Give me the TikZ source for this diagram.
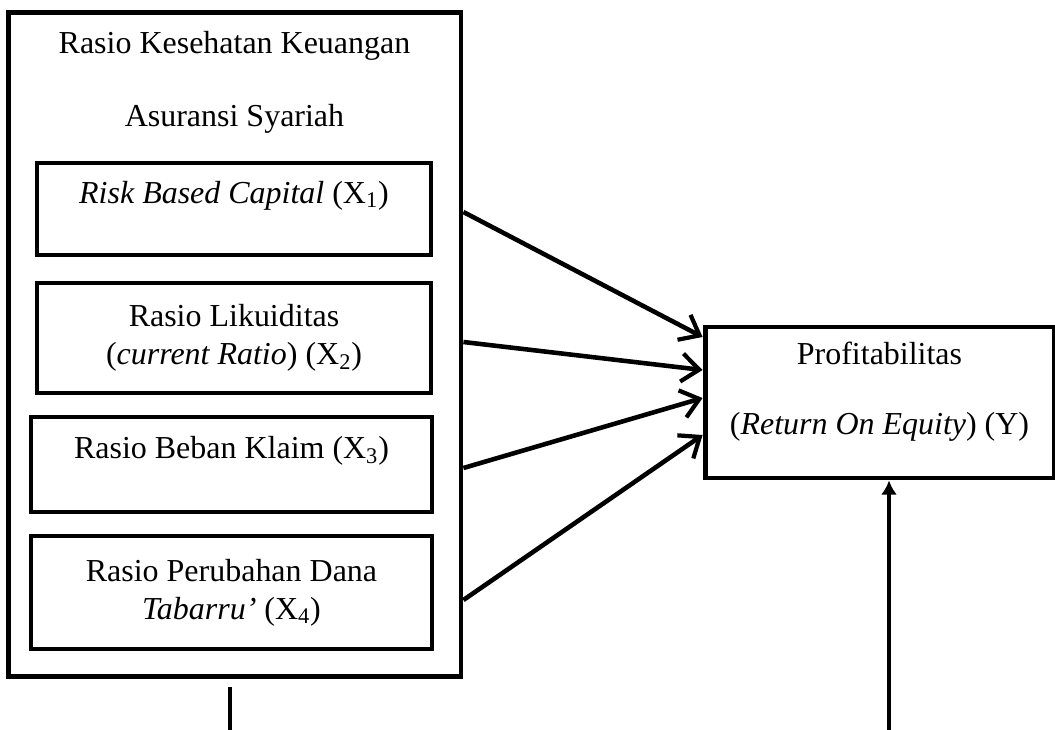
\documentclass[tikz,border=0pt]{standalone}
\usepackage{fontspec}
\setmainfont{Liberation Serif}
\usetikzlibrary{arrows.meta}

\tikzset{
  box/.style={draw, line width=2.8pt, align=center, inner sep=0pt},
  arr/.style={line width=2.6pt, -{Straight Barb[length=10pt,width=16pt,line width=2.4pt]}},
  uparr/.style={line width=2.6pt, -{Latex[length=8pt,width=9pt]}},
}

\begin{document}
\begin{tikzpicture}[x=0.02cm, y=-0.02cm, font=\fontsize{18.2}{21.6}\selectfont]
        \useasboundingbox (0,0) rectangle (1055,730);
        \node[box, minimum width=9.06cm, minimum height=13.3cm] (frame) at (234.5,344.5) {};
        \node[align=center] (title) at (234.5,82) {Rasio Kesehatan Keuangan\\[19.8pt]Asuransi Syariah};
        \node[box, minimum width=7.88cm, minimum height=1.84cm] (rbc) at (234,209) {\textit{Risk Based Capital} (X\textsubscript{1})\\[-9pt]\strut};
        \node[box, minimum width=7.88cm, minimum height=2.2cm] (lik) at (234,338) {Rasio Likuiditas\\(\textit{current Ratio}) (X\textsubscript{2})};
        \node[box, minimum width=8.02cm, minimum height=1.9cm] (klaim) at (231.5,464.5) {Rasio Beban Klaim (X\textsubscript{3})\\[-9pt]\strut};
        \node[box, minimum width=8.02cm, minimum height=2.26cm] (tabarru) at (231.5,592.5) {Rasio Perubahan Dana\\\textit{Tabarru'} (X\textsubscript{4})};
        \node[box, minimum width=6.98cm, minimum height=3.02cm] (prof) at (879.5,402.5) {Profitabilitas\\[18pt](\textit{Return On Equity}) (Y)\\[-12pt]\strut};
        \draw[arr] (frame.east |- 0,212) -- (prof.west |- 0,337);
        \draw[arr] (frame.east |- 0,342) -- (prof.west |- 0,370);
        \draw[arr] (frame.east |- 0,468) -- (prof.west |- 0,398);
        \draw[arr] (frame.east |- 0,600) -- (prof.west |- 0,435);
        \coordinate (outtop) at (230,687);
        \coordinate (outend) at (230,730);
        \draw[line width=2.6pt] (outtop) -- (outend);
        \coordinate (instart) at (889,730);
        \draw[uparr] (instart) -- (instart |- prof.south);
    \end{tikzpicture}
\end{document}
